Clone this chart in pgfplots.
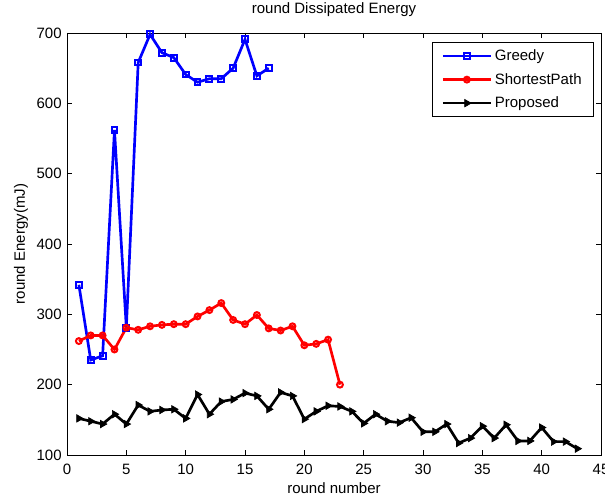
\documentclass[border=0pt]{standalone}
\usepackage{fontspec}
\setmainfont{Liberation Sans}
\usepackage{pgfplots}
\pgfplotsset{compat=1.18}
\newcommand{\myfont}{\fontsize{11.25}{13.5}\selectfont}

\begin{document}
\begin{tikzpicture}

\begin{axis}[%
name=ax,
width=400.5pt,
height=316.5pt,
scale only axis,
xmin=0,
xmax=45,
xtick={0,5,10,15,20,25,30,35,40,45},
ymin=100,
ymax=700,
ytick={100,200,300,400,500,600,700},
tick align=inside,
major tick length=4pt,
axis line style={line width=0.7pt},
every tick/.style={line width=0.6pt,black},
/pgf/number format/assume math mode=true,
tick label style={font=\myfont},
xticklabel style={anchor=base,yshift=-15pt},
yticklabel style={xshift=-0.5pt},
xlabel={round number},
ylabel={round Energy(mJ)},
xlabel style={font=\myfont,at={(axis description cs:0.5,0)},anchor=base,yshift=-29.25pt},
ylabel style={font=\myfont,at={([xshift=-31.5pt]axis description cs:0,0.5)},anchor=base,rotate=0},
title={round Dissipated Energy},
title style={font=\myfont,at={(axis description cs:0.5,1)},anchor=base,yshift=8.25pt},
legend style={at={(0.987,0.979)},anchor=north east,draw=black,fill=white,legend cell align=left,font=\myfont,line width=0.7pt,inner xsep=7pt,inner ysep=3.5pt,row sep=4pt},
legend image code/.code={\draw[mark repeat=2,mark phase=2] plot coordinates {(0pt,0pt) (18pt,0pt) (36pt,0pt)};},
]
\addplot [
color=blue,
line width=2pt,
mark size=2.2pt,
mark=square,
mark options={solid,line width=1.5pt}
]
table[row sep=crcr]{
1 342\\
2 235\\
3 241\\
4 562\\
5 281\\
6 658\\
7 698\\
8 672\\
9 665\\
10 641\\
11 630\\
12 635\\
13 635\\
14 650\\
15 691\\
16 639\\
17 650\\
};
\addlegendentry{Greedy};

\addplot [
color=red,
line width=2pt,
mark size=2.2pt,
mark=o,
mark options={solid,line width=1.5pt}
]
table[row sep=crcr]{
1 262\\
2 270\\
3 270\\
4 250\\
5 281\\
6 278\\
7 283\\
8 285\\
9 286\\
10 286\\
11 297\\
12 306\\
13 316\\
14 292\\
15 286\\
16 299\\
17 280\\
18 277\\
19 283\\
20 256\\
21 258\\
22 264\\
23 200\\
};
\addlegendentry{ShortestPath};

\addplot [
color=black,
line width=2pt,
mark size=3.2pt,
mark=triangle*,
mark options={solid,rotate=-90,line width=0.5pt}
]
table[row sep=crcr]{
1 152\\
2 148\\
3 144\\
4 158\\
5 144\\
6 171\\
7 162\\
8 164\\
9 165\\
10 152\\
11 186\\
12 158\\
13 176\\
14 179\\
15 188\\
16 184\\
17 165\\
18 189\\
19 184\\
20 151\\
21 162\\
22 170\\
23 169\\
24 162\\
25 145\\
26 158\\
27 148\\
28 146\\
29 153\\
30 133\\
31 133\\
32 144\\
33 117\\
34 124\\
35 141\\
36 124\\
37 143\\
38 120\\
39 120\\
40 139\\
41 119\\
42 119\\
43 109\\
};
\addlegendentry{Proposed};

\end{axis}
\pgfresetboundingbox
\useasboundingbox ([shift={(-50.25pt,-34.5pt)}]ax.south west) rectangle ([shift={(3pt,24.75pt)}]ax.north east);
\end{tikzpicture}
\end{document}
